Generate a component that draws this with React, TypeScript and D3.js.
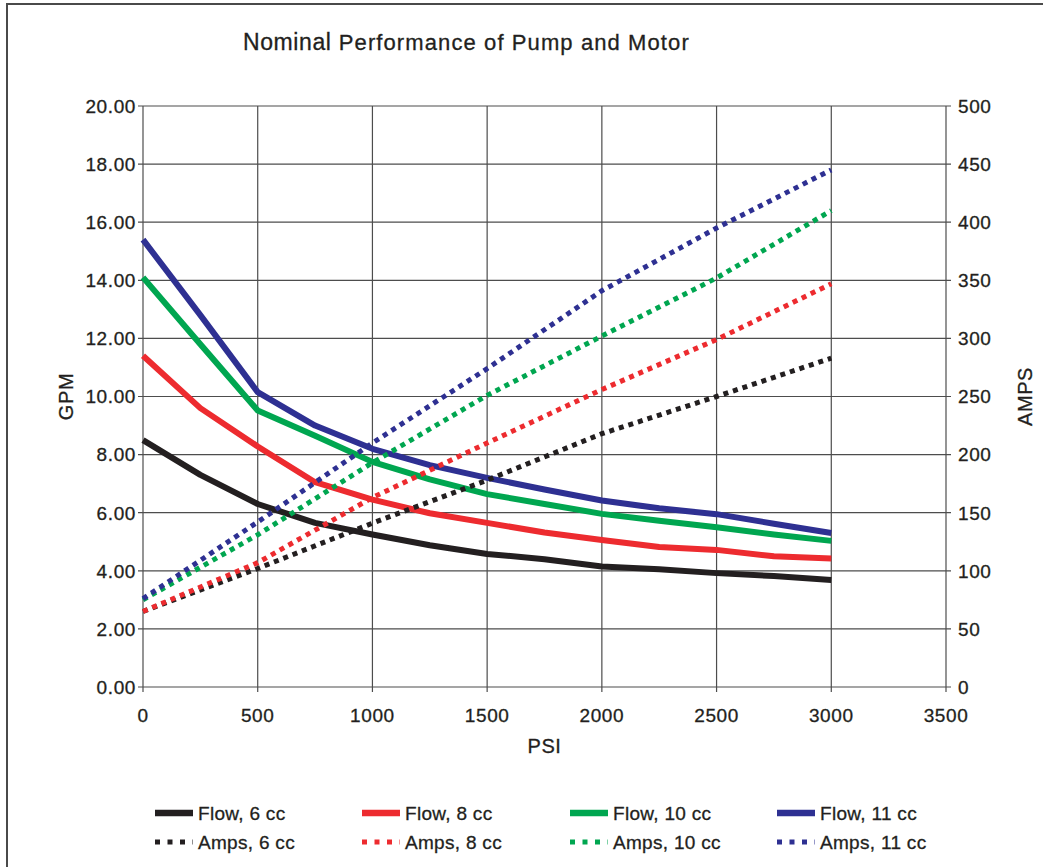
import { useEffect, useRef } from "react";
import * as d3 from "d3";

// PSI readings shared by all flow curves
const flowPsi = [0, 250, 500, 750, 1000, 1250, 1500, 1750, 2000, 2250, 2500, 2750, 3000];
const ampsPsi = [0, 500, 1000, 1500, 2000, 2500, 3000];

// GPM (left axis)
const flow6 = [8.5, 7.3, 6.3, 5.65, 5.25, 4.88, 4.58, 4.4, 4.15, 4.05, 3.92, 3.82, 3.68];
const flow8 = [11.4, 9.6, 8.28, 7.05, 6.45, 5.98, 5.65, 5.32, 5.06, 4.82, 4.72, 4.5, 4.42];
const flow10 = [14.1, 11.8, 9.52, 8.65, 7.75, 7.15, 6.64, 6.3, 5.96, 5.72, 5.5, 5.25, 5.03];
const flow11 = [15.4, 12.8, 10.15, 9.0, 8.2, 7.64, 7.2, 6.8, 6.42, 6.15, 5.95, 5.62, 5.3];

// AMPS (right axis)
const amps6 = [65, 102, 141, 178, 218, 250, 283];
const amps8 = [65, 107, 163, 210, 256, 299, 347];
const amps10 = [75, 131, 193, 251, 302, 352, 410];
const amps11 = [76, 142, 210, 274, 341, 395, 445];

const xTicks = [0, 500, 1000, 1500, 2000, 2500, 3000, 3500];
const gpmTicks = [0, 2, 4, 6, 8, 10, 12, 14, 16, 18, 20];
const ampTicks = [0, 50, 100, 150, 200, 250, 300, 350, 400, 450, 500];

const colors = { c6: "#231f20", c8: "#ed2b2f", c10: "#00a650", c11: "#2e3092" };

const flowSeries = [
  { name: "Flow, 6 cc", values: flow6, color: colors.c6 },
  { name: "Flow, 8 cc", values: flow8, color: colors.c8 },
  { name: "Flow, 10 cc", values: flow10, color: colors.c10 },
  { name: "Flow, 11 cc", values: flow11, color: colors.c11 },
];
const ampsSeries = [
  { name: "Amps, 6 cc", values: amps6, color: colors.c6 },
  { name: "Amps, 8 cc", values: amps8, color: colors.c8 },
  { name: "Amps, 10 cc", values: amps10, color: colors.c10 },
  { name: "Amps, 11 cc", values: amps11, color: colors.c11 },
];

const FONT = "'Liberation Sans', Arial, Helvetica, sans-serif";
const INK = "#231f20";

export default function App() {
  const svgRef = useRef<SVGSVGElement>(null);

  useEffect(() => {
    const svg = d3.select(svgRef.current);
    svg.selectAll("*").remove();

    const W = 1043;
    const H = 867;
    const left = 143, right = 946, top = 106, bottom = 687;

    const x = d3.scaleLinear().domain([0, 3500]).range([left, right]);
    const yL = d3.scaleLinear().domain([0, 20]).range([bottom, top]);
    const yR = d3.scaleLinear().domain([0, 500]).range([bottom, top]);

    svg.append("rect").attr("width", W).attr("height", H).attr("fill", "#fff");

    // outer frame (only left and top edges visible)
    svg.append("rect")
      .attr("x", 7).attr("y", 4)
      .attr("width", W + 20).attr("height", H + 20)
      .attr("fill", "none").attr("stroke", "#4a4a4a").attr("stroke-width", 2);

    // title
    const title = svg.append("text")
      .attr("x", 243).attr("y", 50)
      .attr("font-family", FONT).attr("fill", INK)
      .attr("stroke", INK).attr("stroke-width", 0.3);
    title.append("tspan").attr("font-size", 23).attr("letter-spacing", 0.6).text("Nominal");
    title.append("tspan").attr("font-size", 22).attr("letter-spacing", 1.1).text(" Performance of Pump and Motor");

    const grid = svg.append("g").attr("stroke", "#4d4d4d").attr("stroke-width", 1.2);

    // horizontal grid with ticks on both sides
    grid.selectAll("line.h").data(gpmTicks).enter().append("line")
      .attr("x1", left - 5).attr("x2", right + 5)
      .attr("y1", (d) => yL(d)).attr("y2", (d) => yL(d));

    // vertical grid with ticks below
    grid.selectAll("line.v").data(xTicks).enter().append("line")
      .attr("x1", (d) => x(d)).attr("x2", (d) => x(d))
      .attr("y1", top).attr("y2", bottom + 5);

    const labels = svg.append("g")
      .attr("font-family", FONT).attr("font-size", 19)
      .attr("letter-spacing", 0.6).attr("fill", INK)
      .attr("stroke", INK).attr("stroke-width", 0.3);

    labels.selectAll("text.l").data(gpmTicks).enter().append("text")
      .attr("x", left - 7).attr("y", (d) => yL(d))
      .attr("dy", "0.36em").attr("text-anchor", "end")
      .text((d) => d3.format(".2f")(d));

    labels.selectAll("text.r").data(ampTicks).enter().append("text")
      .attr("x", right + 12).attr("y", (d) => yR(d))
      .attr("dy", "0.36em").attr("text-anchor", "start")
      .text((d) => String(d));

    labels.selectAll("text.x").data(xTicks).enter().append("text")
      .attr("x", (d) => x(d)).attr("y", bottom + 35)
      .attr("text-anchor", "middle")
      .text((d) => String(d));

    // axis titles
    labels.append("text")
      .attr("x", (left + right) / 2).attr("y", 753)
      .attr("text-anchor", "middle").attr("font-size", 20).text("PSI");
    labels.append("text")
      .attr("transform", `translate(73,${(top + bottom) / 2}) rotate(-90)`)
      .attr("text-anchor", "middle").attr("font-size", 20).text("GPM");
    labels.append("text")
      .attr("transform", `translate(1032,${(top + bottom) / 2}) rotate(-90)`)
      .attr("text-anchor", "middle").attr("font-size", 20).text("AMPS");

    // flow curves
    const flowLine = d3.line<number>()
      .x((_, i) => x(flowPsi[i]))
      .y((d) => yL(d));
    flowSeries.forEach((s) => {
      svg.append("path")
        .attr("d", flowLine(s.values))
        .attr("fill", "none").attr("stroke", s.color)
        .attr("stroke-width", 6).attr("stroke-linejoin", "round");
    });

    // amps curves
    const ampsLine = d3.line<number>()
      .x((_, i) => x(ampsPsi[i]))
      .y((d) => yR(d));
    ampsSeries.forEach((s) => {
      svg.append("path")
        .attr("d", ampsLine(s.values))
        .attr("fill", "none").attr("stroke", s.color)
        .attr("stroke-width", 5).attr("stroke-dasharray", "5 5");
    });

    // legend
    const legendX = [155, 362, 570, 777];
    const legend = svg.append("g").attr("font-family", FONT).attr("font-size", 19)
      .attr("letter-spacing", 0.3).attr("fill", INK)
      .attr("stroke", INK).attr("stroke-width", 0.3);
    flowSeries.forEach((s, i) => {
      legend.append("line")
        .attr("x1", legendX[i]).attr("x2", legendX[i] + 38)
        .attr("y1", 813).attr("y2", 813)
        .attr("stroke", s.color).attr("stroke-width", 6.5);
      legend.append("text")
        .attr("x", legendX[i] + 43).attr("y", 813).attr("dy", "0.36em").text(s.name);
    });
    ampsSeries.forEach((s, i) => {
      legend.append("line")
        .attr("x1", legendX[i]).attr("x2", legendX[i] + 38)
        .attr("y1", 842).attr("y2", 842)
        .attr("stroke", s.color).attr("stroke-width", 5)
        .attr("stroke-dasharray", "5 7.5");
      legend.append("text")
        .attr("x", legendX[i] + 43).attr("y", 842).attr("dy", "0.36em").text(s.name);
    });
  }, []);

  return (
    <svg
      ref={svgRef}
      width={1043}
      height={867}
      style={{ position: "absolute", left: 0, top: 0, display: "block" }}
    />
  );
}
